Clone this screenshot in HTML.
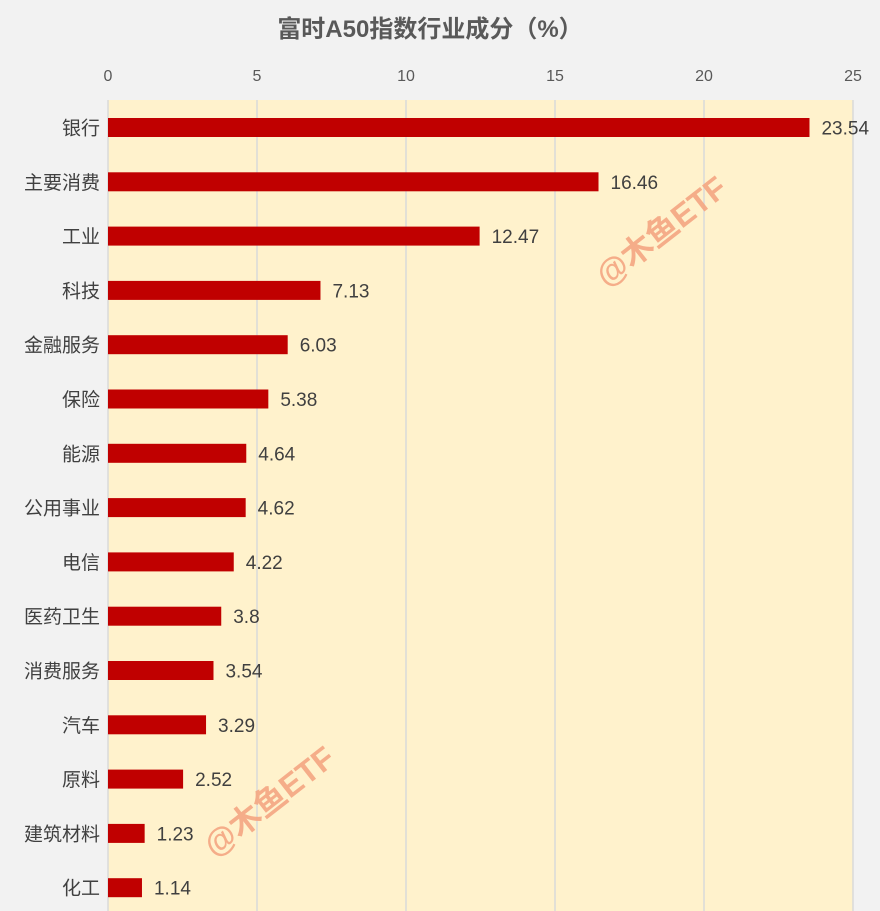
<!DOCTYPE html>
<html><head><meta charset="utf-8"><style>
html,body{margin:0;padding:0;background:#f2f2f2;}
svg{display:block;font-family:"Liberation Sans","Noto Sans CJK SC",sans-serif;}
</style></head><body>
<svg id="c" width="880" height="911">
<rect x="0" y="0" width="880" height="911" fill="#f2f2f2"/>
<text x="430" y="37" text-anchor="middle" font-size="24" font-weight="bold" fill="#595959">富时A50指数行业成分（%）</text>
<g id="plot"></g>
</svg>
<script>
const categories=["银行","主要消费","工业","科技","金融服务","保险","能源","公用事业","电信","医药卫生","消费服务","汽车","原料","建筑材料","化工"];
const values=[23.54,16.46,12.47,7.13,6.03,5.38,4.64,4.62,4.22,3.8,3.54,3.29,2.52,1.23,1.14];
const ticks=[0,5,10,15,20,25];
const NS="http://www.w3.org/2000/svg";
const g=document.getElementById('plot');
const x0=108,x1=853,plotTop=100,plotBottom=911,rowStart=127.5,rowStep=54.3,barH=19;
const xs=v=>x0+(v/25)*(x1-x0);
const ys=i=>rowStart+i*rowStep;
function mk(t,a){const e=document.createElementNS(NS,t);for(const k in a)e.setAttribute(k,a[k]);g.appendChild(e);return e;}
const bg=mk('rect',{x:x0,y:plotTop,width:x1-x0,height:plotBottom-plotTop,fill:'#fff2cc'});


ticks.forEach(t=>{
  const l=mk('line',{x1:xs(t),x2:xs(t),y1:plotTop,y2:plotBottom,stroke:'#d9d9d9','stroke-width':1.5});
  
  
  const tx=mk('text',{x:xs(t),y:81,'text-anchor':'middle','font-size':16,fill:'#595959'});
  tx.textContent=t;
  
  
});
categories.forEach((c,i)=>{
  const y=ys(i);
  const r=mk('rect',{x:x0,y:y-barH/2,width:xs(values[i])-x0,height:barH,fill:'#c00000'});
  
  
  const lb=mk('text',{x:xs(values[i])+12,y:y+7,'font-size':19,fill:'#404040'});
  lb.textContent=values[i];
  
  
  const cl=mk('text',{x:x0-8,y:y+7,'text-anchor':'end','font-size':19,fill:'#404040'});
  cl.textContent=c;
  
  
});
[[668,240],[276,810]].forEach((p,i)=>{
  const w=mk('text',{x:p[0],y:p[1],'text-anchor':'middle','font-size':32,'font-weight':'bold',fill:'#f4a582','fill-opacity':0.9,transform:'rotate(-38 '+p[0]+' '+p[1]+')'});
  w.textContent='@木鱼ETF';
  
  
});
</script>
</body></html>
